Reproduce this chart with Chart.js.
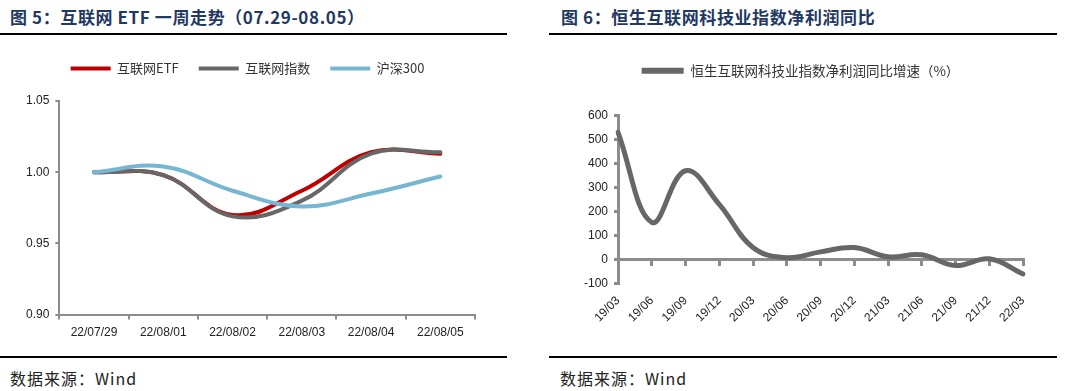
<!DOCTYPE html>
<html>
<head>
<meta charset="utf-8">
<script src="https://cdn.jsdelivr.net/npm/chart.js@4/dist/chart.umd.min.js"></script>
<style>
  body { margin: 0; background: #fff; width: 1080px; height: 391px; position: relative; overflow: hidden; }
  .title { position: absolute; top: 4px; font: bold 17px "Noto Sans CJK SC", sans-serif; letter-spacing: 0.6px; color: #1F3864; white-space: nowrap; }
  .rule { position: absolute; height: 2px; background: #000; }
  .source { position: absolute; top: 366px; font: 16px "Noto Sans CJK SC", sans-serif; letter-spacing: 1px; color: #222; white-space: nowrap; }
  .box { position: absolute; width: 520px; }
</style>
</head>
<body>
<div class="title" style="left:10px">图 5：互联网 ETF 一周走势（07.29-08.05）</div>
<div class="title" style="left:561px">图 6：恒生互联网科技业指数净利润同比</div>
<div class="rule" style="left:0;width:507px;top:33px"></div>
<div class="rule" style="left:549px;width:508px;top:33px"></div>
<div class="rule" style="left:0;width:507px;top:356px"></div>
<div class="rule" style="left:549px;width:508px;top:356px"></div>
<div class="source" style="left:10px">数据来源：Wind</div>
<div class="source" style="left:560px">数据来源：Wind</div>

<div class="box" style="left:0;top:42px;height:304px"><canvas id="chart1" width="520" height="304"></canvas></div>
<div class="box" style="left:540px;top:52px;height:300px"><canvas id="chart2" width="520" height="300"></canvas></div>

<script>
// chart 5: weekly trend
const days = ['22/07/29', '22/08/01', '22/08/02', '22/08/03', '22/08/04', '22/08/05'];
const etf = [1.000, 0.998, 0.970, 0.987, 1.014, 1.013];
const netIndex = [1.000, 0.998, 0.969, 0.980, 1.013, 1.014];
const hs300 = [1.000, 1.004, 0.987, 0.976, 0.985, 0.997];

// chart 6: net profit yoy
const quarters = ['19/03', '19/06', '19/09', '19/12', '20/03', '20/06', '20/09', '20/12', '21/03', '21/06', '21/09', '21/12', '22/03'];
const profitYoy = [530, 155, 370, 230, 50, 8, 32, 50, 12, 20, -25, 3, -60];

const tickFont = { family: '"Liberation Sans", Arial, sans-serif', size: 12 };
const axisGray = '#8c8c8c';

// push the plot down a bit below the legend
const legendGap = {
  id: 'legendGap',
  beforeInit(chart, args, opts) {
    const fit = chart.legend.fit;
    chart.legend.fit = function () {
      fit.bind(chart.legend)();
      this.height += opts.gap || 0;
    };
  },
};

new Chart(document.getElementById('chart1'), {
  type: 'line',
  data: {
    labels: days,
    datasets: [
      { label: '互联网ETF', data: etf, borderColor: '#C00000', backgroundColor: '#C00000', order: 3 },
      { label: '互联网指数', data: netIndex, borderColor: '#676767', backgroundColor: '#676767', order: 2 },
      { label: '沪深300', data: hs300, borderColor: '#76B6D2', backgroundColor: '#76B6D2', order: 1 },
    ],
  },
  options: {
    responsive: false,
    animation: false,
    devicePixelRatio: 1,
    layout: { padding: { left: 20, right: 45, top: 0, bottom: 0 } },
    elements: {
      line: { borderWidth: 4, tension: 0.4, borderCapStyle: 'round' },
      point: { radius: 0, pointStyle: 'line', borderWidth: 4 },
    },
    scales: {
      x: {
        offset: true,
        grid: { offset: true, drawOnChartArea: false, drawTicks: true, tickLength: 5, color: axisGray, lineWidth: 2 },
        border: { color: axisGray, width: 2 },
        ticks: { font: tickFont, color: '#222', maxRotation: 0, autoSkip: false, padding: 6 },
      },
      y: {
        min: 0.9,
        max: 1.05,
        grid: { drawOnChartArea: false, drawTicks: true, tickLength: 4, color: axisGray, lineWidth: 2 },
        border: { color: axisGray, width: 2 },
        ticks: { stepSize: 0.05, font: tickFont, color: '#222', padding: 6, callback: (v) => v.toFixed(2) },
      },
    },
    plugins: {
      legendGap: { gap: 16 },
      tooltip: { enabled: false },
      legend: {
        labels: {
          usePointStyle: true,
          pointStyleWidth: 40,
          boxHeight: 12,
          padding: 20,
          font: { family: '"Noto Sans CJK SC", sans-serif', size: 13 },
          color: '#333',
          sort: (a, b) => a.datasetIndex - b.datasetIndex,
        },
      },
    },
  },
  plugins: [legendGap],
});

new Chart(document.getElementById('chart2'), {
  type: 'line',
  data: {
    labels: quarters,
    datasets: [
      { label: '恒生互联网科技业指数净利润同比增速（%）', data: profitYoy, borderColor: '#676767', backgroundColor: '#676767' },
    ],
  },
  options: {
    responsive: false,
    animation: false,
    devicePixelRatio: 1,
    layout: { padding: { left: 38, right: 37, top: 0, bottom: 25 } },
    elements: {
      line: { borderWidth: 5, tension: 0.4, borderCapStyle: 'round' },
      point: { radius: 0, pointStyle: 'line', borderWidth: 6 },
    },
    scales: {
      x: {
        position: { y: 0 },
        offset: false,
        grid: { drawOnChartArea: false, drawTicks: true, tickLength: 5, color: axisGray, lineWidth: 3 },
        border: { color: axisGray, width: 3 },
        ticks: { display: false },
      },
      x2: {
        type: 'category',
        position: 'bottom',
        offset: false,
        grid: { display: false },
        border: { display: false },
        ticks: { font: tickFont, color: '#222', minRotation: 45, maxRotation: 45, autoSkip: false, padding: 2 },
      },
      y: {
        min: -100,
        max: 600,
        grid: { drawOnChartArea: false, drawTicks: true, tickLength: 4, color: axisGray, lineWidth: 3 },
        border: { color: axisGray, width: 3 },
        ticks: { stepSize: 100, font: tickFont, color: '#222', padding: 6 },
      },
    },
    plugins: {
      legendGap: { gap: 28 },
      tooltip: { enabled: false },
      legend: {
        labels: {
          usePointStyle: true,
          pointStyleWidth: 42,
          boxHeight: 12,
          padding: 12,
          font: { family: '"Noto Sans CJK SC", sans-serif', size: 13.5 },
          color: '#333',
        },
      },
    },
  },
  plugins: [legendGap],
});
</script>
</body>
</html>
